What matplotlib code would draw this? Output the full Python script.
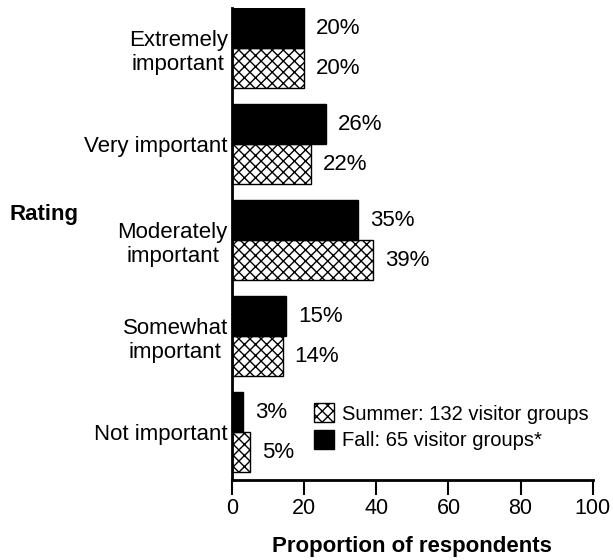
import matplotlib.pyplot as plt
import numpy as np

plt.rcParams['font.family'] = ['Liberation Sans', 'DejaVu Sans']
plt.rcParams['hatch.linewidth'] = 1.0

# Données (de bas en haut)
categories = ["Not important", "Somewhat\nimportant", "Moderately\nimportant",
              "Very important", "Extremely\nimportant"]
summer = [5, 14, 39, 22, 20]
fall = [3, 15, 35, 26, 20]
summer_label = "Summer: 132 visitor groups"
fall_label = "Fall: 65 visitor groups*"

fig = plt.figure(figsize=(6.13, 5.6), dpi=100)
ax = fig.add_axes([0.3785, 0.1429, 0.5885, 0.8428])

y = np.arange(len(categories))
h = 0.417

b_summer = ax.barh(y - h / 2, summer, height=h, color="white", edgecolor="black",
                   hatch="xxx", linewidth=1.0, label=summer_label)
b_fall = ax.barh(y + h / 2, fall, height=h, color="black", edgecolor="black",
                 linewidth=1.0, label=fall_label)

for yy, v in zip(y, summer):
    ax.text(v + 3.3, yy - h / 2, f"{v}%", va="center", ha="left", fontsize=16)
for yy, v in zip(y, fall):
    ax.text(v + 3.3, yy + h / 2, f"{v}%", va="center", ha="left", fontsize=16)

ax.set_xlim(0, 100)
ax.set_ylim(-0.5, 4.42)
ax.set_xticks([0, 20, 40, 60, 80, 100])
ax.set_yticks(y)
ax.set_yticklabels(categories, multialignment="center")
ax.tick_params(axis="y", length=0, pad=3, labelsize=16)
ax.tick_params(axis="x", length=11, width=1.5, direction="out", pad=2, labelsize=15.5)

for s in ["top", "right"]:
    ax.spines[s].set_visible(False)
ax.spines["left"].set_linewidth(2)
ax.spines["bottom"].set_linewidth(2)

ax.set_xlabel("Proportion of respondents", fontsize=16, fontweight="bold", labelpad=12.5)
fig.text(0.016, 0.617, "Rating", fontsize=16, fontweight="bold", va="center", ha="left")

ax.legend(handles=[b_summer, b_fall], loc="upper left", bbox_to_anchor=(0.205, 0.18),
          frameon=False, fontsize=14.5, handlelength=1.0, handleheight=1.1,
          handletextpad=0.4, labelspacing=0.3, borderaxespad=0)

fig.savefig("out.png", dpi=100)
